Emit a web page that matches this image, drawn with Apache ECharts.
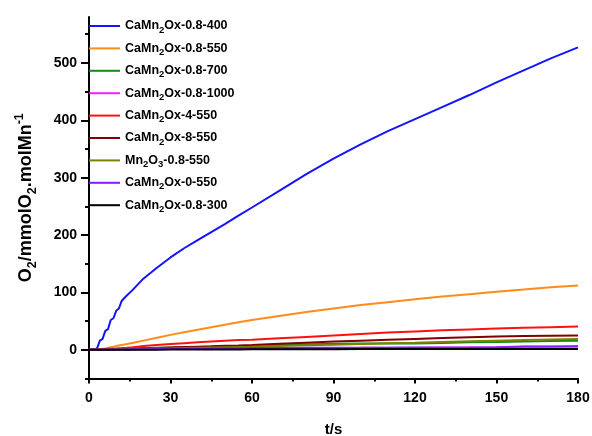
<!DOCTYPE html>
<html><head><meta charset="utf-8">
<script src="https://cdn.jsdelivr.net/npm/echarts@6/dist/echarts.min.js"></script>
<style>html,body{margin:0;padding:0;background:#fff}#c{width:592px;height:436px}</style>
</head><body><div id="c"></div>
<script>
// time (s)
const timeSec = [0,1,2,3,4,5,6,7,8,9,10,11,12,14,16,18,20,25,30,35,40,45,50,55,60,70,80,90,100,110,120,130,140,150,160,170,180];
// O2 evolved (mmol O2 / mol Mn)
const s400   = [0,0,0,3,16,19,33,36,52,55,68,72,85,95,104,114,124,143,161,177,191,205,219,234,248,277,306,333,358,381,402,423,444,466,487,508,527];
const s550   = [0,0,0,0,1,2,2.5,3.5,4.5,5.5,6.5,7.5,8.5,10,12,14,16,21,26,30.5,35,39.5,43.8,48,52,59,66,72,78,83,88,93,97,101,105,109,112];
const s700   = [0,0,0,0,0.1,0.3,0.5,0.7,0.9,1.1,1.3,1.5,1.7,2,2.4,2.8,3,3.5,4,4.5,5,5.5,6,6.5,7,8.2,9.4,10.5,10.8,11,11,12,13,13.5,14.5,15.3,16];
const s1000  = [0,0,0,0,0.1,0.1,0.2,0.2,0.3,0.3,0.4,0.4,0.5,0.6,0.7,0.8,0.9,1,1.2,1.4,1.7,2,2.3,2.6,2.8,3,3.2,3.3,3.4,3.6,3.7,3.8,3.9,4.2,5.3,5.5,5.6];
const s4_550 = [0,0,0,0,0.3,0.6,1,1.3,1.7,2,2.4,2.7,3,3.7,4.5,5.5,6.5,8.5,10,11.5,13,14.5,16,17,17.5,20,22.5,25,27.5,30,32,34,35.5,37,38.5,39.5,40.5];
const s8_550 = [0,0,0,0,0.1,0.2,0.3,0.4,0.5,0.6,0.7,0.8,0.9,1.1,1.4,1.7,2.5,3.2,4,4.8,5.5,6.2,7,7.7,8.5,10.5,12.5,14.5,16,17.5,19,20.5,22,23,24,24.5,25];
const sMn2O3 = [0,0,0,0,0.1,0.2,0.3,0.4,0.5,0.6,0.7,0.8,0.8,1,1.2,1.5,1.7,2.1,2.5,3,3.5,4,4.5,5,5.5,6.7,7.9,9,10.2,11.4,12.5,13.7,14.9,16,17,18,19];
const s0_550 = [0,0,0,0,0.1,0.2,0.3,0.3,0.4,0.5,0.5,0.6,0.6,0.7,0.8,0.9,1,1.2,1.5,1.8,2.1,2.4,2.7,2.9,3,3.2,3.4,3.5,3.7,3.8,4,4,4.1,4.5,5.8,5.9,6];
const s300   = [0,0,0,0,0,0,0.1,0.1,0.1,0.1,0.1,0.2,0.2,0.2,0.2,0.3,0.3,0.3,0.4,0.5,0.5,0.6,0.7,0.7,0.8,0.9,1,1.1,1.2,1.2,1.3,1.4,1.4,1.5,1.5,1.6,1.6];

const seriesNames = ['CaMn2Ox-0.8-400','CaMn2Ox-0.8-550','CaMn2Ox-0.8-700','CaMn2Ox-0.8-1000','CaMn2Ox-4-550','CaMn2Ox-8-550','Mn2O3-0.8-550','CaMn2Ox-0-550','CaMn2Ox-0.8-300'];
const seriesValues = [s400,s550,s700,s1000,s4_550,s8_550,sMn2O3,s0_550,s300];
const seriesColors = ['#1414ff','#ff8c1a','#138a13','#ff1aff','#ff1010','#800000','#808000','#8a1aff','#000000'];

const xTicks = [0,30,60,90,120,150,180];
const yMajorTicks = [0,100,200,300,400,500];
const yMinorTicks = [-50,50,150,250,350,450,550];

const FONT = '"Liberation Sans", Arial, sans-serif';
const chart = echarts.init(document.getElementById('c'), null, {renderer:'canvas'});

function richName(n){
  return n.replace(/Mn(\d)O(\d?)/, (m,a,b)=>'Mn{s|'+a+'}O'+(b?'{s|'+b+'}':''));
}

chart.setOption({
  animation:false,
  backgroundColor:'#fff',
  grid:{left:89,right:14,top:17,bottom:57.5,outerBoundsMode:'none',containLabel:false},
  legend:{
    orient:'vertical', left:89, top:17, padding:0,
    itemWidth:31, itemHeight:2, itemGap:4.4, icon:'rect',
    data:seriesNames,
    formatter: richName,
    textStyle:{fontFamily:FONT,fontWeight:'bold',fontSize:12.5,lineHeight:18,color:'#000',
      rich:{s:{fontFamily:FONT,fontWeight:'bold',fontSize:9.5,lineHeight:9,verticalAlign:'bottom',color:'#000'}}}
  },
  xAxis:{
    type:'value', min:0, max:180, interval:30,
    axisLine:{onZero:false,lineStyle:{color:'#000',width:2}},
    axisTick:{length:5,lineStyle:{color:'#000',width:2}},
    minorTick:{show:true,splitNumber:2,length:3,lineStyle:{color:'#000',width:2}},
    splitLine:{show:false},
    axisLabel:{customValues:xTicks,margin:13,fontFamily:FONT,fontWeight:'bold',fontSize:14,color:'#000'},
    name:'t/s', nameLocation:'middle', nameGap:44,
    nameTextStyle:{fontFamily:FONT,fontWeight:'bold',fontSize:15,color:'#000'}
  },
  yAxis:[{
    type:'value', min:-50, max:580, interval:50, position:'left', offset:0,
    axisLine:{show:true,onZero:false,lineStyle:{color:'#000',width:2}},
    axisTick:{customValues:yMajorTicks,length:8,lineStyle:{color:'#000',width:2}},
    splitLine:{show:false},
    axisLabel:{customValues:yMajorTicks,margin:12,fontFamily:FONT,fontWeight:'bold',fontSize:14,color:'#000'},
    name:'{b|O}{s|2}{b|/mmolO}{s|2}{b|.molMn}{p|-1}', nameLocation:'middle', nameRotate:90, nameGap:50,
    nameTextStyle:{
      rich:{
        b:{fontFamily:FONT,fontWeight:'bold',fontSize:18,lineHeight:26,color:'#000'},
        s:{fontFamily:FONT,fontWeight:'bold',fontSize:12.5,lineHeight:12,verticalAlign:'bottom',color:'#000'},
        p:{fontFamily:FONT,fontWeight:'bold',fontSize:12.5,lineHeight:12,verticalAlign:'top',color:'#000'}
      }
    }
  },{
    type:'value', min:-50, max:580, interval:50, position:'left', offset:0,
    axisLine:{show:false},
    axisTick:{customValues:yMinorTicks,length:4,lineStyle:{color:'#000',width:2}},
    axisLabel:{show:false},
    splitLine:{show:false}
  }],
  series: seriesNames.map((n,i)=>({
    name:n, type:'line', yAxisIndex:0, showSymbol:false, symbol:'none',
    lineStyle:{width:2,color:seriesColors[i]}, itemStyle:{color:seriesColors[i]},
    data: timeSec.map((t,j)=>[t, seriesValues[i][j]])
  }))
});
</script></body></html>
